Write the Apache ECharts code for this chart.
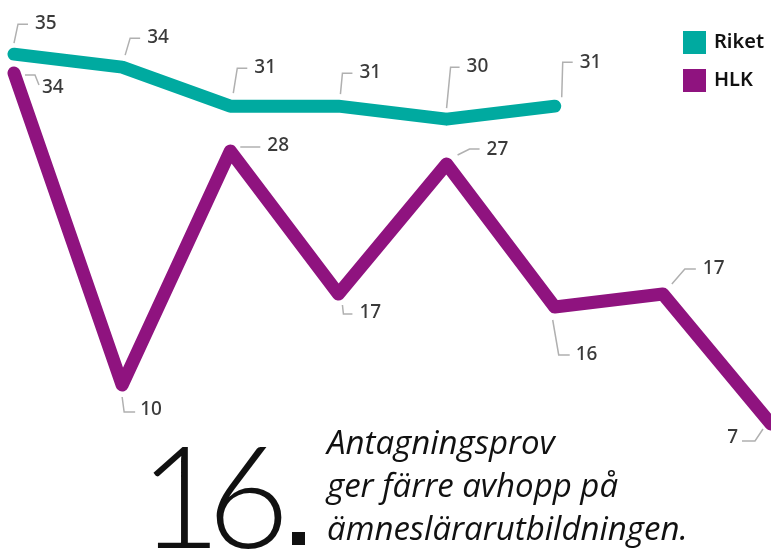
<!DOCTYPE html>
<html>
<head>
<meta charset="utf-8">
<script src="https://cdn.jsdelivr.net/npm/echarts@6/dist/echarts.min.js"></script>
<style>
    html, body { margin: 0; padding: 0; background: #fff; }
    #chart { width: 771px; height: 554px; }
</style>
</head>
<body>
<div id="chart"></div>
<script>
// === DONNÉES ===
const periodes = ["1", "2", "3", "4", "5", "6", "7", "8"];
const riket = [35.45, 34.45, 31.45, 31.45, 30.45, 31.45];
const hlk = [34, 10, 28, 17, 27, 16, 17, 7];

// Position des étiquettes (décalages en px depuis le point)
const riketCallouts = [
    { line: [[0, -11], [4, -30], [14, -30]], label: [21, -31] },
    { line: [[3, -12], [8, -29], [18, -29]], label: [25, -30] },
    { line: [[3, -13], [7, -38], [17, -38]], label: [24, -39] },
    { line: [[2, -12], [4, -33], [14, -33]], label: [21, -34] },
    { line: [[0, -11], [4, -52], [13, -52]], label: [20, -53] },
    { line: [[7, -9], [8, -44], [18, -44]], label: [25, -44] }
];
const hlkCallouts = [
    { line: [[11, 2], [21, 2], [25, 12]], label: [28, 15] },
    { line: [[0, 12], [2, 27], [13, 27]], label: [18, 25] },
    { line: [[10, -4], [30, -4]], label: [37, -5] },
    { line: [[4, 11], [5, 20], [14, 20]], label: [21, 19] },
    { line: [[11, -9], [23, -15], [33, -15]], label: [40, -14] },
    { line: [[-2, 13], [4, 48], [15, 48]], label: [21, 48] },
    { line: [[9, -10], [22, -25], [33, -25]], label: [40, -25] },
    { line: [[-8, 5], [-16, 17], [-29, 17]], label: [-33, 14], align: "right" }
];

const TEAL = "#00aaa0";
const PURPLE = "#8f137f";

// Étiquettes + petits traits gris
function calloutSeries(name, values, callouts) {
    return {
        type: "custom",
        name: name + "-etiquettes",
        silent: true,
        z: 5,
        data: values.map((v, i) => [i, v]),
        renderItem: (params, api) => {
            const p = api.coord([api.value(0), api.value(1)]);
            const c = callouts[params.dataIndex];
            return {
                type: "group",
                children: [
                    {
                        type: "polyline",
                        shape: { points: c.line.map(o => [p[0] + o[0], p[1] + o[1]]) },
                        style: { stroke: "#b0b0b0", lineWidth: 1.5, fill: null }
                    },
                    {
                        type: "text",
                        x: p[0] + c.label[0],
                        y: p[1] + c.label[1],
                        style: {
                            text: String(Math.round(api.value(1))),
                            fill: "#3a3a3a",
                            font: '500 19px "Noto Sans"',
                            align: c.align || "left",
                            verticalAlign: "middle"
                        }
                    }
                ]
            };
        }
    };
}

function lineSeries(name, values, color) {
    return {
        name: name,
        type: "line",
        data: values,
        symbol: "none",
        clip: false,
        color: color,
        lineStyle: { width: 13, color: color, cap: "round", join: "round" }
    };
}

const chart = echarts.init(document.getElementById("chart"));
chart.setOption({
    animation: false,
    backgroundColor: "#fff",
    grid: { left: 14, right: 0, top: 21, bottom: 39 },
    legend: {
        data: ["Riket", "HLK"],
        orient: "vertical",
        left: 678,
        top: 26,
        icon: "rect",
        itemWidth: 23,
        itemHeight: 23,
        itemGap: 15,
        textStyle: { fontFamily: "Noto Sans", fontSize: 20, fontWeight: 600, color: "#111", padding: [0, 0, 0, 3] }
    },
    xAxis: { type: "category", data: periodes, boundaryGap: false, show: false },
    yAxis: { type: "value", min: 0, max: 38, show: false },
    series: [
        lineSeries("HLK", hlk, PURPLE),
        lineSeries("Riket", riket, TEAL),
        calloutSeries("HLK", hlk, hlkCallouts),
        calloutSeries("Riket", riket, riketCallouts)
    ],
    graphic: [
        {
            type: "text", left: 139, top: 431,
            style: { text: "1", font: '300 142px "Lato"', fill: "#111" }
        },
        {
            type: "text", left: 207, top: 431,
            style: { text: "6", font: '300 142px "Lato"', fill: "#111" }
        },
        {
            type: "rect", left: 292, top: 532, shape: { width: 13, height: 13 },
            style: { fill: "#111" }
        },
        {
            type: "text", left: 327, top: 423,
            style: {
                text: "Antagningsprov\nger färre avhopp på\nämneslärarutbildningen.",
                font: 'italic 400 33px "Open Sans"',
                lineHeight: 43,
                fill: "#111"
            }
        }
    ]
});
window.addEventListener("resize", () => chart.resize());
</script>
</body>
</html>
